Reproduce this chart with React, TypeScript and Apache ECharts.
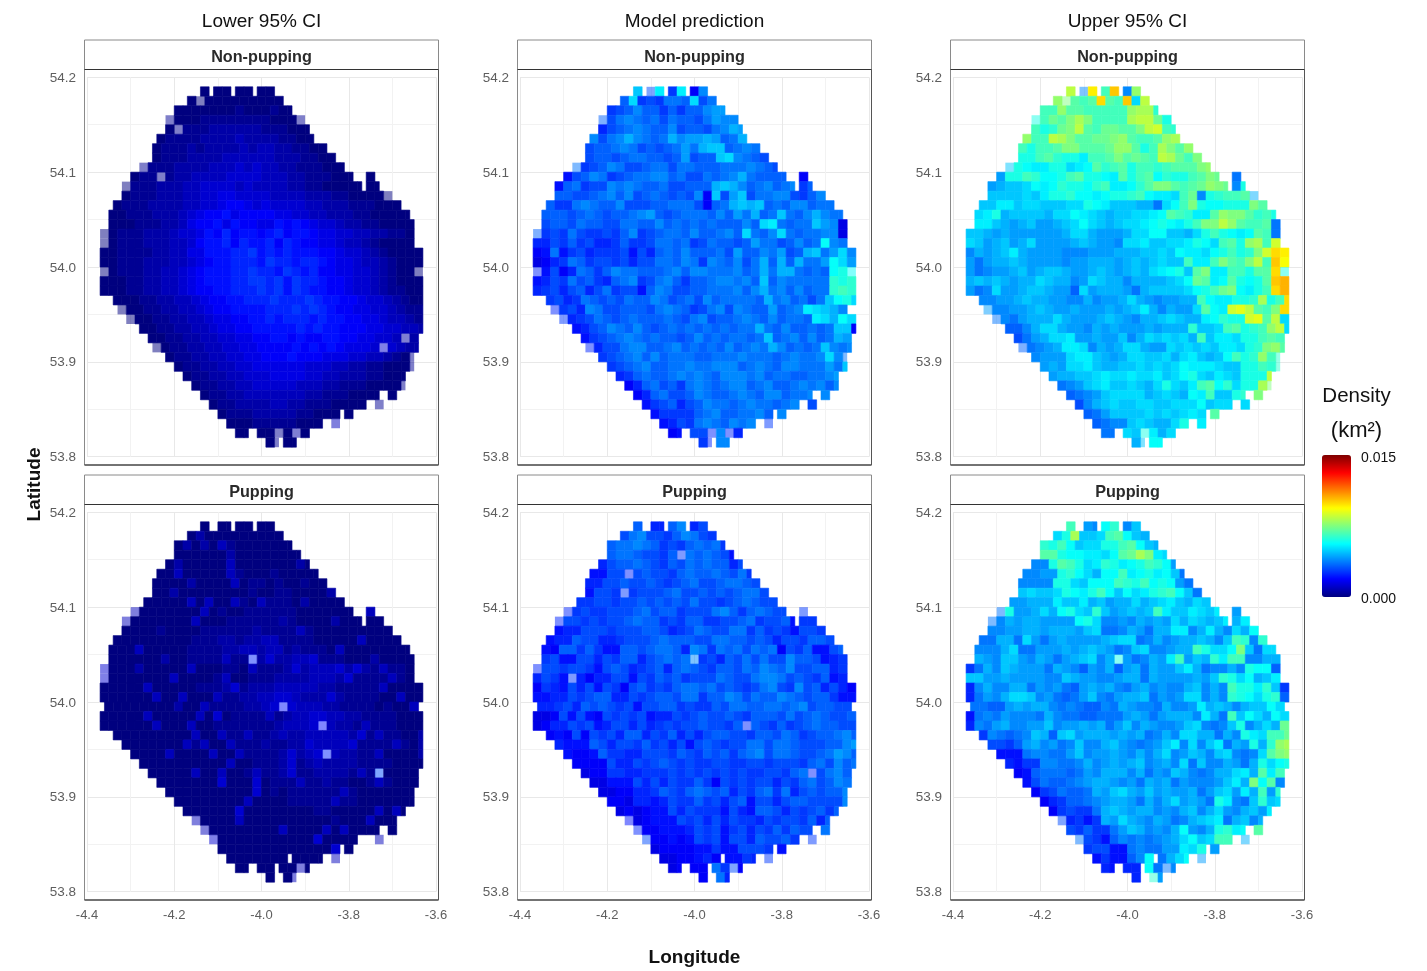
import React, { useEffect, useRef } from "react";
import * as echarts from "echarts";

// Each cell letter is a density level: 0-9a-z = level 0..35, A-Z = level 0..25 drawn half transparent.
const levelStep = 0.0003;
const jetColors = ["#00007F", "#0000FF", "#007FFF", "#00FFFF", "#7FFF7F", "#FFFF00", "#FF7F00", "#FF0000", "#7F0000"];
const columnTitles = ["Lower 95% CI", "Model prediction", "Upper 95% CI"];
const rowTitles = ["Non-pupping", "Pupping"];
const lonTicks = ["-4.4", "-4.2", "-4.0", "-3.8", "-3.6"];

// occupied stretches of each latitude row, in 0.01 degree longitude steps from -4.37
const spansNonPupping = [
  [[23,25],[26,30],[31,35],[36,40]],[[20,42]],[[17,44]],[[15,47]],[[15,48]],[[13,49]],[[12,52]],[[12,54]],[[9,56]],[[7,58],[61,63]],
  [[5,60],[61,64]],[[5,67]],[[3,69]],[[2,71]],[[2,72]],[[0,72]],[[0,72]],[[0,74]],[[0,74]],[[0,74]],
  [[0,74]],[[0,74]],[[3,74]],[[4,74]],[[6,74]],[[9,74]],[[11,73]],[[12,73]],[[15,72]],[[17,72]],
  [[19,70]],[[21,70]],[[23,64],[66,68]],[[25,61],[63,65]],[[27,55],[56,58]],[[29,51],[53,55]],[[31,34],[36,48]],[[38,41],[42,45]],
];
const spansPupping = [
  [[23,25],[27,30],[31,35],[36,40]],[[20,42]],[[17,44]],[[17,46]],[[15,48]],[[13,50]],[[12,52]],[[12,54]],[[10,56]],[[7,58],[61,63]],
  [[5,60],[61,65]],[[5,67]],[[3,69]],[[2,71]],[[2,72]],[[0,72]],[[0,72]],[[0,74]],[[0,74]],[[1,73]],
  [[0,74]],[[0,74]],[[3,74]],[[5,74]],[[7,74]],[[9,74]],[[11,73]],[[13,73]],[[15,72]],[[17,72]],
  [[19,70]],[[21,68]],[[23,64],[66,68]],[[25,61],[63,65]],[[27,55],[56,58]],[[29,43],[44,51],[53,55]],[[31,34],[36,40],[41,48]],[[38,40],[42,45]],
];

const lowerNonPupping = [
  "0 00 00 00","0A000000000","00000001000100","B00011111111000B","0B11122222211100000","0111122223222211000",
  "0111212222323322110000","0111222233333322211000000","B111222233343433221110000000","011B12233334444333221110000 0",
  "A1112223344443433332211000000 00","011122233445544443333222110000A","011122223344566545444433222111000000",
  "0011122234566756666554433222110000000","0001112235667576655767654432211000000","A011122234457686776786776554433221100",
  "A011122233467786877868766554332100000","00111122335577788978787776654432100000","0011122233456778887988788765543321000",
  "A01112233456777889887987866554432100A","00011223345677788998979887665443210000","0001122334566778889897987766544321100",
  "0001122334566778889888987766544321000","A0011223345667777888989876655443211000","A001122334556677878887877665543321000",
  "0011223345566777778787766655443321000","00112233445566776766776655443C21000","A0112233445566667676765554E432211000",
  "0112233445566676665554433210B","011223344555555444332211000B","01122334445555443322211000","011223344444333221110000B",
  "011223333333221110000 0","011222233221110000 B","01112222211000 0","00011111000 D","00 00B0C0","0B 00",
];
const modelNonPupping = [
  "g Ki 9i 6d","bh9a9ccbhaccd","9abdbb9b9bbdee9","Lacdcbcacbbaceddag","8abcdcbbdabbacdfeabcc","dacdfdcbcfdeefebcfc9e",
  "abbcdcababcecfggbcdcbcdb","abbabccbbabeabbghdcbadcb","M9abdcaabccaccbbbcccdcbaaa","7abdc9abccddbcaacbcdfcbbbba 6",
  "7bc9aadcdcbbcaabbbfgfdbcdbcd 9b","bbaabcdbdabcbabad6gaegaccdda9bdaO","b99cdcbbdaaabbccca6bcfgfgbcbddbccb",
  "bbbabcbabbcdebabcccbdbecfbcgcbdfdccdc","abbacbbaaccbbdbcbcbcbbbdbhicbccged5","L9a9ca99a9bd9abccbdbbcdbhcbdhcbccdd5",
  "88a9b9a889b99accbc9acbbabeccabdbcjdc","67c79a8999a7a8bcbdbbbcaebbdceabfgcehd","5689cb9aa9a8aaccbdc9dcbdacfbfbfccejhe",
  "I7a68cb9bdccbbbcdbddcccdbcfcffcbcbjkT","78a9cab98bcd9acdb9bbcddcdbgbdccccclkl","89a8ab8ac9aa7bdcaabbcccdbdfcdbdbcclml",
  "9a89cbabacbbdcabcadbccccbfcdbcacgjkh","I9a8dcaabbbacdcb9acdadcbbebcdihgfd","J89acbabcbbbcbacdabbcdcbdbccbihfjh",
  "78abdcbdbabcbcbcbcbccfcbdbbcbcgg6","79abcdcbcbbabdbcbccbcgbcdbdbcfe","I8aacddbbcdbcbcbdbcdcfdbcbcgdcd",
  "9abcdbdbcccbbcccdcccbcdccdhdM","9abcdbbccdccdddbcdcbddcccecgM","89bcbbcdcdcbdddcdbccbbccdec","68bcab9cdcbcddbcdbbcdcdbdcM",
  "68bcaabdcbbcdcbddbccdf d","79ab8abdccbcdccbcdbb a","79999bcdbbccdbb d","78a9cdcbdcdbb J","67 aaIdI8","9I dd",
];
const upperNonPupping = [
  "s Nw my dq","qZnmnxnmyhs","mmqnnmmmmmqrrl","Umonprpmmmmrssok","mklopsnmoonnpstml","qmmsrpnnoopqnmmnqr","mkmmnppnnnoqqnkmrpnq",
  "kkmnlkkimmnpnonmsromp","Qkjiikkhijnlmnkmmlmnnnpq","ekkmljjkmnkkjinkmnjlkkmnpo c","efgghjijlkkjlmiijlnppnmnoqpo dk",
  "gggghgikkljjijkklmjiihmodklmmnP","ggiighhggghhkjigggffchjmpkjjkkkpnoon","hikfggggfhhjihgfgghhijnmliinqppnlmk",
  "iigfefgeefghjhgfghhijkjikmppsqnmmnc","ggfefeeeeeefhhfeeefhhjjggfhkmkjijnmc","hgefgefheeeefgfeedhhigghhikjhmnkqrmt",
  "dfefgifeeeedddeeefffgghgjiihjkmklptxw","eceffgfeeeedeefffefgfghggmiimpnmpsmyv","ecdeefgefggfeefgfefgfhijkgnpiimmknnxU",
  "fgfgfeffhgffdehgffdffffghjonijnkjknyz","ecdheefggfeebhefffecfgggghjkmopjikmxz","ddeefgffeeddfdeefhfedeeffmjiikklrkmxy",
  "Oddeefgfeefeeefefgifdfeehnjitusnmpx","Mdcefffhfeeefgfedffghgffijlkktunsh","bbdfhhfeedfefeeefeffflgghmnklmqsh",
  "acefhhieefeegdfhghghfmgiihkkmnm","Lcdefiihdfefhhfeehghghgiihklpqnn","deeehiigfefhhgghfhigfgjmklqmV","efehhigffgghghghjiiihggkkmlV",
  "effgghihhihhighjkhgihgkkks","cdeghigghgfhkhgimnjlhkkrZ","bcdeghhhhfghgfjimggklo p","adfghgghhgghhhjghhi h","bcegggghghghih n","bcddghgffhk i","cc hgUifh","fQ jj",
];
const lowerPupping = [
  "0 00 00 00","0200000000000","0202031000000000","000000200000000000","020000030000000200","0030000031000100000000","0000200003011010010000",
  "00200000000100110000200","00000303003103111020000000","D000000030100111111000000000 3","D0000000300011111121000020000 00",
  "0000100001111112111131000000000D0","0000000001112212233111100000300000","0003000001111223323312111030000000000",
  "0000002001111311I2422334111000200000","E00020000030001103111242333424213110000","E00000003000013001112222333241111310000",
  "0000030000011124122233333221111130000000","0000003003000311223344322242111100300000","00000000200311112234H4333221111010030",
  "0000030000030401111312334433221111000000","0000003000300111111123334H322131110000","0000000003003113112322333332413110020",
  "000000031300311121122433334111131020","0000300003003111124234I3221130000200","0000000000300111241232222111100000",
  "00000300300131124112222131K0000000","00000004000401113112110013100000","00000000004010111111310000000","000000003000011111311000000000",
  "0000004000000001100000303000","D00003000000000010003000000","D000000003000030300000 0","E0000000000040000 D","000000000000040 0","0000000 0000 D","00 00 00D0","0 0D",
];
const modelPupping = [
  "b 88 bd 8a","acdaa9bdca988","bccdcb9a9bcbc98","bccbaa9bJcbcba77","8abbcba9bacbcbb8a88","77aaIabaa9bcbbcbac97","88aabaaba9abcaabccba87",
  "7aa9J9aaabcaabababcca887","99aa9aabababacaa9abcbaaaaa9","I9a99aaabcabb9aaacdb9bcbaa9 J","Iaa9a9aabcbb9a9bb99aabc9aab7 99",
  "788aaa9aaabba89acbaacc9b9a97aa9aN","788baa889aaabcbbbaaccbbaba8aa9bbaa","76bb9b977bbabccb8dc9cbcacbc6a9b77abb",
  "9a77aa8a9bb8abcbcN9a8bacacaadbba789aa","Iaa9aa97aba89ab8bcba9bbacbdcbdaabb897","8a97J8688aa7a9bab9aaacbaacddcaba9b787",
  "6987a8a7a96ab9a9bccbcaba9acda9dab8a86","7788a9abb88a9abbacc9bbdcacbbdcbabb977","889a8baba9a7aabb9a99baccbbccbcdabbaa9",
  "556a7a76a9a9a788a9abaaba9bbbacabcbaab","5688a9a78aa8a89a9aabaa9bIba9b9abcbbaa","676a6a9a8bb8a9b8a8abbaa9bbacb9abbcdbd",
  "8777ba8aa9b9a8a7aba9aaccaccbaaabbde","7667b9988aaa9ba9bab9bcdaccbaabcedb7","6666a88a9aba9a99aa99aa9aaa9bcadbc",
  "5669988999a9a9a9a9a99aa9bcIacdb","55777a8a8a99b96a9a9aa8a9bcabdca","5566889ba9bcbab8a9bc9c8ababbda8","6658878a99b9a8ab7aa8abbaaaada",
  "565677a8a9997a87bba8a9ab9bc9","H56777a9a8a8a998a9aa9b8bde","I667778a9a79a8a9b9baa8 c","K66767a9a7aa8baab9a9 J","5666677977aaa9 7","5566786 7798 J","56 66 c9K6","6 c8",
];
const upperPupping = [
  "m ed jl dg","hkrgghmnjgf","lkmjghhkkmnjgfjh","nnkjjiihjnorpihc","ddknmkhilkijkmljecdm","ddeekljhfjjmijkijgc8","ddddkkhgjjjmlkmjkjec9f",
  "ghgghkjikmjgjhiklmjgc8h","eefffiggifgeffhfghigfhgggg","Mkeefhfjkhglgefgfgmiggihgig e","Mdfeffeeeejkhddedfefehfhgfgid fi",
  "ddeeffefffeghccdfecffiidfifdhfjjgU","ccffchecefeeeefghhcdfdeffgfdgmldlijk","dddfhcceeefefgfecdghddeffmkhhjpgchhjjk",
  "fedggedfecefghdfUecdfeimegflimmddffdde","9cfdgfeeecfedbedfbefcfeegifcddfdkjjb","ggeefeeeeddgfeeddeffcfeeeefeglkhjfgi",
  "8dfddffcedecbefefdcefdeddfgdfdmkkilg9","8cedfhhgdecbcegdceffgcedehhdfdlkjhklb","ccbbefeffdcdcbbdcfeddcfddeifgfdfggjhhj",
  "7cdcedddcfdccbbcccefecefffdifcmgjhfjhh","8dcefddeegdeefefcegdfeddeghdcdgkdfhfoih","9dcbcdgfbghefffefefcdfdhhffcfdkihmmoj",
  "aa9befdecdgddfgedcdegidhdgicfekflqrq","777cddccegdeefedfdfhdegfdghdcdhnpqnk","8799ddccdfdefefgdefdhcgddfecfkhjkjiig",
  "67bcccbcedfffdfcedgfdcdffhifnimhkhn","7acbbcdeffedecfefcedddegifpjndjjlo","69acbbcfeghfegefeefcegheifmelkjif","689bbcdeffecfdfhefeckidcglghkkj",
  "69a99cfgfeffdedfgdfhedfgeijh","K8979fehfedfecdfghicfgdfem","a9b99cegfdedfjedfklij n","Ma97bdcdcdefhjghmm P","9aa77cdcceeihk e","7977bdj cfhj O","87 88 jcMd","8 Ve",
];

const panels = [
  [lowerNonPupping, modelNonPupping, upperNonPupping],
  [lowerPupping, modelPupping, upperPupping],
];

function decode(rows: string[], spans: number[][][]) {
  const out: number[][] = [];
  rows.forEach((row, r) => {
    const lat = 54.185 - r * 0.01;
    row.split(" ").forEach((seg, k) => {
      const span = spans[r][k];
      if (!span) return;
      let pos = span[0];
      for (const ch of seg) {
        if (pos >= span[1]) break;
        const upper = ch >= "A" && ch <= "Z";
        const level = upper ? ch.charCodeAt(0) - 65 : parseInt(ch, 36);
        const w = Math.min(2, span[1] - pos);
        out.push([-4.37 + 0.01 * (pos + w / 2), lat, level * levelStep, 0.005 * w, upper ? 0.5 : 1]);
        pos += 2;
      }
    });
  });
  return out;
}

const FONT = "'Liberation Sans', Arial, sans-serif";

function renderCell(_: any, api: any) {
  const lon = api.value(0), lat = api.value(1), hw = api.value(3), alpha = api.value(4);
  const a = api.coord([lon - hw, lat + 0.005]);
  const b = api.coord([lon + hw, lat - 0.005]);
  const color = api.visual("color");
  return {
    type: "rect",
    shape: { x: a[0], y: a[1], width: b[0] - a[0], height: b[1] - a[1] },
    style: alpha < 1 ? { fill: color, opacity: alpha } : { fill: color, stroke: color, lineWidth: 0.6 },
  };
}

function buildOption() {
  const grid: any[] = [], xAxis: any[] = [], yAxis: any[] = [], series: any[] = [], graphic: any[] = [];
  const text = (x: number, y: number, t: string, size: number, extra: any = {}) => ({
    type: "text", x, y, z: 20,
    style: { text: t, fontSize: size, fontFamily: FONT, fill: "#111111", textAlign: "center", textVerticalAlign: "middle", ...extra.style },
    ...(extra.rotation ? { rotation: extra.rotation } : {}),
  });
  const majorLine = { show: true, lineStyle: { color: "#e8e8e8", width: 1 } };
  const minorLine = { show: true, lineStyle: { color: "#f2f2f2", width: 1 } };
  for (let r = 0; r < 2; r++) {
    for (let c = 0; c < 3; c++) {
      const i = grid.length;
      const dx = 433 * c, dy = 435 * r;
      grid.push({ left: 87 + dx, top: 77.3 + dy, width: 349, height: 379.4 });
      xAxis.push({
        type: "value", gridIndex: i, min: -4.4, max: -3.6, interval: 0.2,
        axisLine: { show: false }, axisTick: { show: false },
        axisLabel: { show: r === 1, margin: 16, fontSize: 13, fontFamily: FONT, color: "#5e5e5e", formatter: (v: number) => lonTicks[Math.round((v + 4.4) / 0.2)], hideOverlap: false },
        splitLine: majorLine, minorTick: { show: false, splitNumber: 2 }, minorSplitLine: minorLine,
      });
      yAxis.push({
        type: "value", gridIndex: i, min: 53.8, max: 54.2, interval: 0.1,
        axisLine: { show: false }, axisTick: { show: false },
        axisLabel: { margin: 11, fontSize: 13.5, fontFamily: FONT, color: "#5e5e5e", padding: [3, 0, 0, 0], formatter: (v: number) => v.toFixed(1) },
        splitLine: majorLine, minorTick: { show: false, splitNumber: 2 }, minorSplitLine: minorLine,
      });
      series.push({
        type: "custom", xAxisIndex: i, yAxisIndex: i, coordinateSystem: "cartesian2d", silent: true, clip: false,
        encode: { x: 0, y: 1 }, renderItem: renderCell,
        data: decode(panels[r][c], r === 0 ? spansNonPupping : spansPupping),
      });
      const L = 84.5 + dx, R = 438.5 + dx, stripTop = 40 + dy, stripBottom = 69.5 + dy, bottom = 465 + dy;
      graphic.push(
        { type: "rect", z: 10, shape: { x: L, y: stripTop, width: R - L, height: bottom - stripTop }, style: { fill: "none", stroke: "#8a8a8a", lineWidth: 1 } },
        { type: "line", z: 11, shape: { x1: L, y1: stripBottom, x2: R, y2: stripBottom }, style: { stroke: "#333333", lineWidth: 1 } },
        { type: "line", z: 11, shape: { x1: L, y1: bottom, x2: R, y2: bottom }, style: { stroke: "#222222", lineWidth: 1 } },
        { type: "line", z: 11, shape: { x1: R, y1: stripBottom, x2: R, y2: bottom }, style: { stroke: "#555555", lineWidth: 1 } },
        text(261.5 + dx, 56 + dy, rowTitles[r], 16.2, { style: { fontWeight: "bold", fill: "#2a2a2a" } }),
      );
    }
  }
  columnTitles.forEach((t, c) => graphic.push(text(261.5 + 433 * c, 20.5, t, 19)));
  graphic.push(
    text(694.5, 956.5, "Longitude", 19, { style: { fontWeight: "bold" } }),
    text(33, 484.5, "Latitude", 19, { style: { fontWeight: "bold" }, rotation: Math.PI / 2 }),
    text(1356.5, 394, "Density", 20.5),
    text(1356.5, 429, "(km²)", 22),
    text(1378.5, 456.5, "0.015", 14),
    text(1378.5, 597.5, "0.000", 14),
  );
  return {
    animation: false,
    backgroundColor: "#ffffff",
    grid, xAxis, yAxis, series, graphic,
    visualMap: {
      type: "continuous", min: 0, max: 0.015, dimension: 2, seriesIndex: [0, 1, 2, 3, 4, 5],
      left: 1322, top: 455, itemWidth: 29, itemHeight: 142, calculable: false, realtime: false, hoverLink: false,
      inRange: { color: jetColors }, text: undefined, showLabel: false, padding: 0,
    },
  };
}

export default function App() {
  const ref = useRef<HTMLDivElement>(null);
  useEffect(() => {
    const chart = echarts.init(ref.current!, undefined, { renderer: "svg" });
    chart.setOption(buildOption() as any);
    return () => chart.dispose();
  }, []);
  return <div ref={ref} style={{ position: "fixed", left: 0, top: 0, width: 1427, height: 971, filter: "blur(0.5px)" }} />;
}
